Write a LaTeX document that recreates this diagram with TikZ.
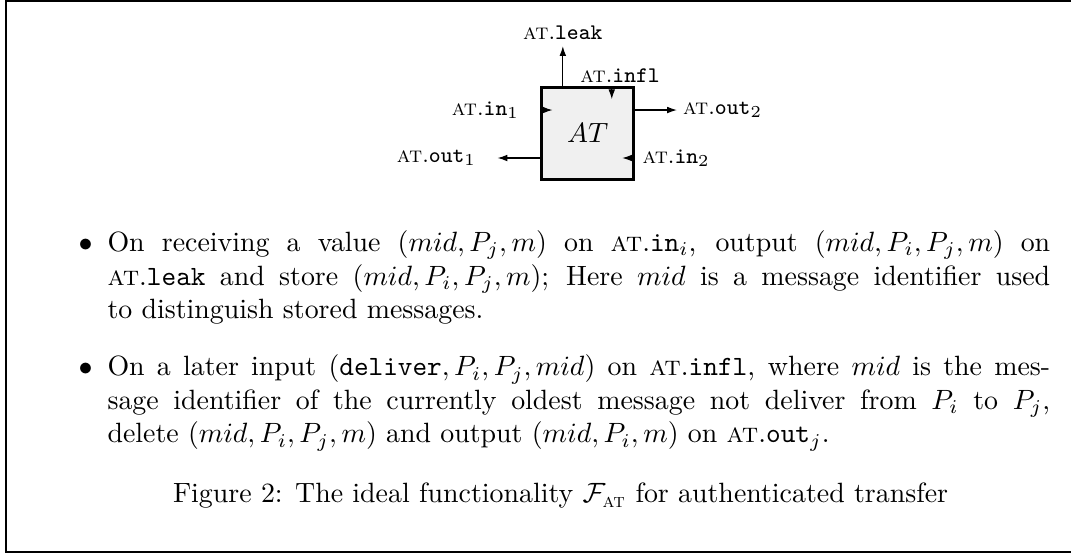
\documentclass[tikz,border=0pt]{standalone}
\usepackage{amsmath}
\usepackage{tikz}
\usetikzlibrary{positioning,arrows.meta}

\newcommand{\ATport}[1]{\textsc{at}.\texttt{#1}}

\begin{document}
\begin{tikzpicture}[
        node distance=2pt,
        box/.style={rectangle, draw=black, line width=1pt, fill=gray!12, minimum size=33pt, inner sep=0pt},
        arrow/.style={-{Latex[length=3.5pt,width=2.4pt]}, thin},
        lbl/.style={inner sep=0pt, font=\footnotesize},
        item/.style={inner sep=0pt, text width=338pt, align=justify, anchor=base west},
        dot/.style={inner sep=0pt, anchor=base east}
    ]
    \useasboundingbox (0,0) rectangle (384pt,-198.6pt);
    % Frame
    \draw[line width=0.8pt] (386pt,-0.4pt) -- (2.2pt,-0.4pt) -- (2.2pt,-198pt) -- (386pt,-198pt);
    % Box
    \node[box] (at) at (210.7pt,-47.85pt) {$AT$};
    % Port points
    \coordinate (leakstart) at ([xshift=-8.9pt]at.north);
    \coordinate (leakend) at ([yshift=14.3pt]leakstart);
    \coordinate (inflstart) at ([xshift=8.65pt]at.north);
    \coordinate (inflend) at ([yshift=-4.7pt]inflstart);
    \coordinate (inastart) at ([yshift=8.4pt]at.west);
    \coordinate (inaend) at ([xshift=4.4pt]inastart);
    \coordinate (outbstart) at ([yshift=8.4pt]at.east);
    \coordinate (outbend) at ([xshift=15pt]outbstart);
    \coordinate (inbstart) at ([yshift=-8.8pt]at.east);
    \coordinate (inbend) at ([xshift=-4.6pt]inbstart);
    \coordinate (outastart) at ([yshift=-8.8pt]at.west);
    \coordinate (outaend) at ([xshift=-15.3pt]outastart);
    % Labels
    \node[lbl, above=2pt of leakend] (leak) {\ATport{leak}};
    \node[lbl, above=1.2pt of inflstart, xshift=3pt] (infl) {\ATport{infl}};
    \node[lbl, left=7.4pt of inastart] (ina) {\ATport{in}$_1$};
    \node[lbl, right=2pt of outbend] (outb) {\ATport{out}$_2$};
    \node[lbl, right=2.5pt of inbstart] (inb) {\ATport{in}$_2$};
    \node[lbl, left=7.5pt of outaend] (outa) {\ATport{out}$_1$};
    % Arrows
    \draw[arrow] (leakstart) -- (leakend);
    \draw[arrow] (inflstart) -- (inflend);
    \draw[arrow] (inastart) -- (inaend);
    \draw[arrow] (outbstart) -- (outbend);
    \draw[arrow] (inbstart) -- (inbend);
    \draw[arrow] (outastart) -- (outaend);
    % Text
    \node[item] (leakitem) at (38.35pt,-90.2pt) {On receiving a value $(mid,P_j,m)$ on \ATport{in}$_i$, output $(mid,P_i,P_j,m)$ on\linebreak \ATport{leak} and store $(mid,P_i,P_j,m)$; Here $mid$ is a message identifier used\linebreak to distinguish stored messages.};
    \node[dot] (dota) at ([xshift=-5pt]leakitem.base west) {$\bullet$};
    \node[item] (inflitem) at (38.35pt,-134.8pt) {On a later input $(\texttt{deliver},P_i,P_j,mid)$ on \ATport{infl}, where $mid$ is the mes-\linebreak sage identifier of the currently oldest message not deliver from $P_i$ to $P_j$,\linebreak delete $(mid,P_i,P_j,m)$ and output $(mid,P_i,m)$ on \ATport{out}$_j$.};
    \node[dot] (dotb) at ([xshift=-5pt]inflitem.base west) {$\bullet$};
    \node[anchor=base] (caption) at (201pt,-180.3pt) {Figure 2: The ideal functionality $\mathcal{F}_{\text{\textsc{at}}}$ for authenticated transfer};
\end{tikzpicture}
\end{document}
